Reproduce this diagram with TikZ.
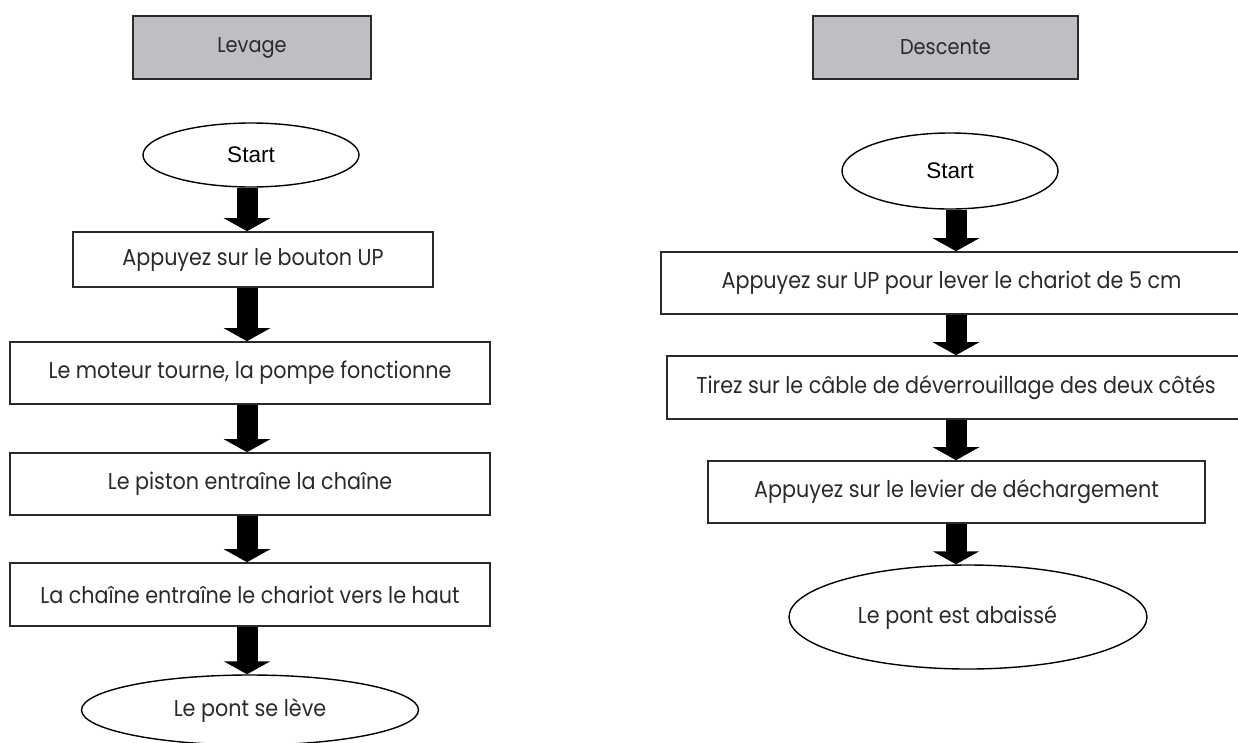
\documentclass[tikz,border=0pt]{standalone}
\usepackage{fontspec}
\setmainfont[FakeStretch=0.9]{Poppins}
\newfontfamily\arialfont{Liberation Sans}
\usetikzlibrary{shapes.geometric,arrows.meta}
\definecolor{headgray}{HTML}{BEBFC3}
\definecolor{ink}{HTML}{2A2A2A}
\begin{document}
\begin{tikzpicture}[x=1pt,y=-1pt,
  every node/.style={font=\fontsize{23}{26}\selectfont, text=ink},
  header/.style={draw=ink, line width=1.6pt, fill=headgray, rectangle, inner sep=0pt, font=\fontsize{21.5}{24}\selectfont},
  stepbox/.style={draw=ink, line width=1.6pt, fill=white, rectangle, inner sep=0pt},
  terminal/.style={draw=black, line width=1.4pt, ellipse, inner sep=0pt, fill=white},
  startlabel/.style={font=\arialfont\fontsize{22.5}{26}\selectfont, text=black},
  flowarrow/.style={line width=21pt, draw=black, -{Triangle[width=46pt,length=13pt]}}
]
\useasboundingbox (0,0) rectangle (1238,742);
\clip (0,0) rectangle (1238,742);
% left column
\node[header, minimum width=238pt, minimum height=63pt] (levage) at (252,47.5) {Levage};
\node[terminal, startlabel, minimum width=216pt, minimum height=64pt] (startL) at (251,155) {Start};
\node[stepbox, minimum width=360pt, minimum height=55pt] (L1) at (253,259.5) {Appuyez sur le bouton UP};
\node[stepbox, minimum width=480pt, minimum height=62pt] (L2) at (250,373) {Le moteur tourne, la pompe fonctionne};
\node[stepbox, minimum width=480pt, minimum height=62pt] (L3) at (250,484) {Le piston entraîne la chaîne};
\node[stepbox, minimum width=480pt, minimum height=63pt] (L4) at (250,594.5) {La chaîne entraîne le chariot vers le haut};
\node[terminal, minimum width=337pt, minimum height=70pt] (endL) at (250,710) {Le pont se lève};
\coordinate (xL) at (247,0);
\draw[flowarrow] (startL.south -| xL) -- (L1.north -| xL);
\draw[flowarrow] (L1.south -| xL) -- (L2.north -| xL);
\draw[flowarrow] (L2.south -| xL) -- (L3.north -| xL);
\draw[flowarrow] (L3.south -| xL) -- (L4.north -| xL);
\draw[flowarrow] (L4.south -| xL) -- (endL.north -| xL);
% right column
\node[header, minimum width=265pt, minimum height=63pt] (descente) at (945.5,47.5) {Descente};
\node[terminal, startlabel, minimum width=216pt, minimum height=76pt] (startR) at (950,171) {Start};
\node[stepbox, minimum width=584pt, minimum height=62pt] (R1) at (953,283) {\hspace*{-3pt}Appuyez sur UP pour lever le chariot de 5 cm};
\node[stepbox, minimum width=578pt, minimum height=63pt] (R2) at (956,387.5) {Tirez sur le câble de déverrouillage des deux côtés};
\node[stepbox, minimum width=497pt, minimum height=62pt] (R3) at (956.5,492) {Appuyez sur le levier de déchargement};
\node[terminal, minimum width=358pt, minimum height=104pt] (endR) at (968,617) {\hspace*{-21pt}Le pont est abaissé};
\coordinate (xR) at (956,0);
\draw[flowarrow] (startR.south -| xR) -- (R1.north -| xR);
\draw[flowarrow] (R1.south -| xR) -- (R2.north -| xR);
\draw[flowarrow] (R2.south -| xR) -- (R3.north -| xR);
\draw[flowarrow] (R3.south -| xR) -- (endR.north -| xR);
\end{tikzpicture}
\end{document}
